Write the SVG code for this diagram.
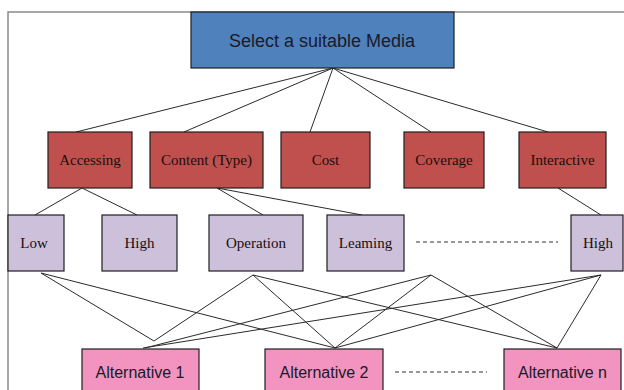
<svg xmlns="http://www.w3.org/2000/svg" width="624" height="390" viewBox="0 0 624 390">
<style>
.box{stroke:#1e1e1e;stroke-width:1.2}
.top{fill:#4F81BD}
.crit{fill:#C0504D}
.sub{fill:#CCC0DA}
.alt{fill:#F294BF}
.serif{font-family:"Liberation Serif","Times New Roman",serif;font-size:15px;fill:#1a0e0e;text-anchor:middle}
.sans{font-family:"Liberation Sans",Arial,sans-serif;fill:#1a1a2a;text-anchor:middle}
.ln{stroke:#2a2a2a;stroke-width:1;fill:none}
.dash{stroke:#333;stroke-width:1.1;stroke-dasharray:4 3;fill:none}
</style>
<rect x="0" y="0" width="624" height="390" fill="#fff"/>
<g id="frame"><path d="M8 390 V12 H624" fill="none" stroke="#8a8a8a" stroke-width="1.5"/></g>
<g id="connectors">
<line class="ln" x1="333" y1="68" x2="76" y2="132"/>
<line class="ln" x1="333" y1="68" x2="184" y2="132"/>
<line class="ln" x1="333" y1="68" x2="310" y2="132"/>
<line class="ln" x1="333" y1="68" x2="431" y2="132"/>
<line class="ln" x1="333" y1="68" x2="548" y2="132"/>
<line class="ln" x1="82" y1="188" x2="35" y2="215"/>
<line class="ln" x1="82" y1="188" x2="137" y2="215"/>
<line class="ln" x1="217" y1="188" x2="263" y2="215"/>
<line class="ln" x1="217" y1="188" x2="362" y2="215"/>
<line class="ln" x1="558" y1="188" x2="601" y2="215"/>
<line class="ln" x1="41" y1="273" x2="154" y2="341"/>
<line class="ln" x1="41" y1="273" x2="335" y2="348" stroke-width="1.7"/>
<line class="ln" x1="253" y1="275" x2="154" y2="341"/>
<line class="ln" x1="253" y1="275" x2="335" y2="348"/>
<line class="ln" x1="253" y1="275" x2="557" y2="348"/>
<line class="ln" x1="431" y1="275" x2="145" y2="348"/>
<line class="ln" x1="431" y1="275" x2="335" y2="348"/>
<line class="ln" x1="431" y1="275" x2="557" y2="348"/>
<line class="ln" x1="601" y1="275" x2="143" y2="348"/>
<line class="ln" x1="601" y1="275" x2="335" y2="348"/>
<line class="ln" x1="601" y1="275" x2="557" y2="348"/>
<line class="dash" x1="416" y1="242" x2="558" y2="242"/>
<line class="dash" x1="395" y1="372" x2="487" y2="372"/>
</g>
<g id="goal"><rect class="box top" x="191" y="12" width="263" height="56"/><text class="sans" x="322" y="47" font-size="18">Select a suitable Media</text></g>
<g id="accessing"><rect class="box crit" x="48" y="132" width="84" height="56"/><text class="serif" x="90" y="165">Accessing</text></g>
<g id="content"><rect class="box crit" x="150" y="132" width="113" height="56"/><text class="serif" x="206.5" y="165">Content (Type)</text></g>
<g id="cost"><rect class="box crit" x="281" y="132" width="89" height="56"/><text class="serif" x="325.5" y="165">Cost</text></g>
<g id="coverage"><rect class="box crit" x="404" y="132" width="80" height="56"/><text class="serif" x="444" y="165">Coverage</text></g>
<g id="interactive"><rect class="box crit" x="519" y="132" width="87" height="56"/><text class="serif" x="562.5" y="165">Interactive</text></g>
<g id="low"><rect class="box sub" x="8" y="215" width="56" height="56"/><text class="serif" x="34" y="248">Low</text></g>
<g id="high1"><rect class="box sub" x="102" y="215" width="75" height="56"/><text class="serif" x="139.5" y="248">High</text></g>
<g id="operation"><rect class="box sub" x="209" y="215" width="94" height="56"/><text class="serif" x="256" y="248">Operation</text></g>
<g id="learning"><rect class="box sub" x="327" y="215" width="77" height="56"/><text class="serif" x="365.5" y="248">Leaming</text></g>
<g id="high2"><rect class="box sub" x="571" y="215" width="52" height="56"/><text class="serif" x="598" y="248">High</text></g>
<g id="alt1"><rect class="box alt" x="82" y="349" width="117" height="50"/><text class="sans" x="140" y="378" font-size="16">Alternative 1</text></g>
<g id="alt2"><rect class="box alt" x="265" y="349" width="118" height="50"/><text class="sans" x="324" y="378" font-size="16">Alternative 2</text></g>
<g id="altn"><rect class="box alt" x="504" y="349" width="117" height="50"/><text class="sans" x="562.5" y="378" font-size="16">Alternative n</text></g>
</svg>
